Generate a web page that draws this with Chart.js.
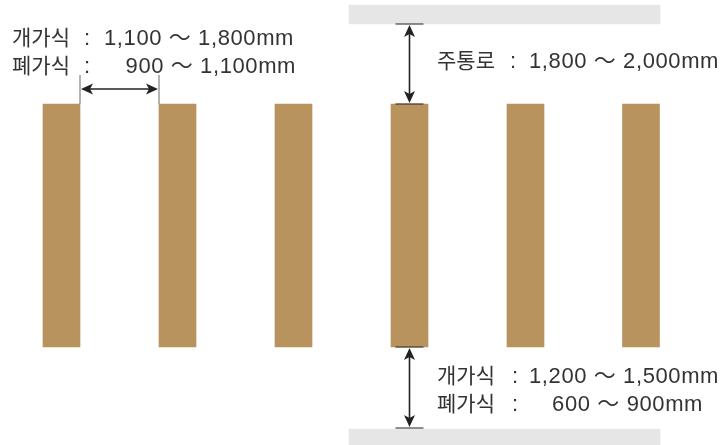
<!DOCTYPE html>
<html>
<head>
<meta charset="utf-8">
<script src="https://cdn.jsdelivr.net/npm/chart.js@4"></script>
<style>
  html, body { margin: 0; padding: 0; background: #fff; }
  canvas { display: block; }
</style>
</head>
<body>
<canvas id="layout" width="726" height="445"></canvas>
<script>
// shelf plan, in the diagram's own units (x across, y down)
const shelfX = [61.5, 177.5, 293.5, 409.5, 525.5, 641];
const shelfTop = [104, 104, 104, 104, 104, 104];
const shelfBottom = [347, 347, 347, 347, 347, 347];

// grey walls / corridor edges
const wallX = [504.5, 504.5];
const wallFrom = [5, 429];
const wallTo = [24, 445];

// dimension texts
const sideLabel = ['개가식', '폐가식'];
const sideValue = ['1,100 ～ 1,800mm', '900 ～ 1,100mm'];
const mainLabel = ['주통로'];
const mainValue = ['1,800 ～ 2,000mm'];
const backLabel = ['개가식', '폐가식'];
const backValue = ['1,200 ～ 1,500mm', '600 ～ 900mm'];

const LABEL_FONT = '21px "Noto Sans CJK KR", sans-serif';
const VALUE_FONT = '22px "Liberation Sans", "Noto Sans CJK KR", sans-serif';
const INK = '#222';

function arrowHead(ctx, x, y, dir) {
  const L = 12, W = 5.5;
  ctx.beginPath();
  if (dir === 'up') { ctx.moveTo(x, y); ctx.lineTo(x - W, y + L); ctx.lineTo(x, y + L - 3); ctx.lineTo(x + W, y + L); }
  if (dir === 'down') { ctx.moveTo(x, y); ctx.lineTo(x - W, y - L); ctx.lineTo(x, y - L + 3); ctx.lineTo(x + W, y - L); }
  if (dir === 'left') { ctx.moveTo(x, y); ctx.lineTo(x + L, y - W); ctx.lineTo(x + L - 3, y); ctx.lineTo(x + L, y + W); }
  if (dir === 'right') { ctx.moveTo(x, y); ctx.lineTo(x - L, y - W); ctx.lineTo(x - L + 3, y); ctx.lineTo(x - L, y + W); }
  ctx.closePath();
  ctx.fill();
}

const dimensions = {
  id: 'dimensions',
  afterDatasetsDraw(chart) {
    const ctx = chart.ctx;
    const sx = chart.scales.x, sy = chart.scales.y;
    const px = v => sx.getPixelForValue(v);
    const py = v => sy.getPixelForValue(v);
    const half = 18.5;

    ctx.save();
    ctx.strokeStyle = INK;
    ctx.fillStyle = INK;

    // aisle between shelf 1 and 2
    const a = px(shelfX[0] + half), b = px(shelfX[1] - half);
    ctx.lineWidth = 1;
    ctx.strokeStyle = '#666';
    ctx.beginPath();
    ctx.moveTo(a, py(75)); ctx.lineTo(a, py(shelfTop[0]));
    ctx.moveTo(b, py(75)); ctx.lineTo(b, py(shelfTop[1]));
    ctx.stroke();
    ctx.strokeStyle = INK;
    ctx.lineWidth = 1.6;
    ctx.beginPath();
    ctx.moveTo(a + 4, py(89)); ctx.lineTo(b - 4, py(89));
    ctx.stroke();
    arrowHead(ctx, a + 1, py(89), 'left');
    arrowHead(ctx, b - 1, py(89), 'right');

    // main corridor (top) and back aisle (bottom), at shelf 4
    const cx = px(shelfX[3]);
    ctx.lineWidth = 1.2;
    ctx.beginPath();
    ctx.moveTo(cx - 14, py(wallTo[0])); ctx.lineTo(cx + 14, py(wallTo[0]));
    ctx.moveTo(cx - 14, py(shelfTop[3])); ctx.lineTo(cx + 14, py(shelfTop[3]));
    ctx.moveTo(cx - 14, py(shelfBottom[3])); ctx.lineTo(cx + 14, py(shelfBottom[3]));
    ctx.moveTo(cx - 14, py(wallFrom[1] - 1)); ctx.lineTo(cx + 14, py(wallFrom[1] - 1));
    ctx.stroke();
    ctx.lineWidth = 1.6;
    ctx.beginPath();
    ctx.moveTo(cx, py(wallTo[0]) + 4); ctx.lineTo(cx, py(shelfTop[3]) - 4);
    ctx.moveTo(cx, py(shelfBottom[3]) + 4); ctx.lineTo(cx, py(wallFrom[1] - 1) - 4);
    ctx.stroke();
    arrowHead(ctx, cx, py(wallTo[0]) + 1, 'up');
    arrowHead(ctx, cx, py(shelfTop[3]) - 1, 'down');
    arrowHead(ctx, cx, py(shelfBottom[3]) + 1, 'up');
    arrowHead(ctx, cx, py(wallFrom[1] - 1) - 1, 'down');

    // texts
    ctx.textBaseline = 'alphabetic';
    ctx.fillStyle = '#333';
    const row = (label, value, x, colonX, valueX, y, alignRight) => {
      ctx.letterSpacing = '0px';
      ctx.font = LABEL_FONT;
      ctx.textAlign = 'left';
      ctx.fillText(label, x, y);
      ctx.font = VALUE_FONT;
      ctx.textAlign = 'center';
      ctx.fillText(':', colonX, y);
      ctx.letterSpacing = '0.6px';
      ctx.textAlign = alignRight ? 'right' : 'left';
      ctx.fillText(value, valueX, y);
    };
    row(sideLabel[0], sideValue[0], 12, 87, 104, 45, false);
    row(sideLabel[1], sideValue[1], 12, 87, 296, 73, true);
    row(mainLabel[0], mainValue[0], 437, 513, 529, 68, false);
    row(backLabel[0], backValue[0], 437, 515, 529, 383, false);
    row(backLabel[1], backValue[1], 437, 515, 703, 411, true);
    ctx.restore();
  }
};

new Chart(document.getElementById('layout'), {
  type: 'bar',
  data: {
    datasets: [
      {
        label: 'wall',
        data: wallX.map((x, i) => ({ x: x, y: [wallFrom[i], wallTo[i]] })),
        backgroundColor: '#e6e6e6',
        barThickness: 311,
        grouped: false,
        order: 2
      },
      {
        label: 'shelf',
        data: shelfX.map((x, i) => ({ x: x, y: [shelfTop[i], shelfBottom[i]] })),
        backgroundColor: '#b9935d',
        barThickness: 37,
        grouped: false,
        order: 1
      }
    ]
  },
  options: {
    responsive: false,
    animation: false,
    devicePixelRatio: 1,
    layout: { padding: 0 },
    scales: {
      x: { type: 'linear', min: 0, max: 726, offset: false, display: false },
      y: { type: 'linear', min: 0, max: 445, reverse: true, display: false }
    },
    plugins: { legend: { display: false }, tooltip: { enabled: false } }
  },
  plugins: [dimensions]
});
</script>
</body>
</html>
